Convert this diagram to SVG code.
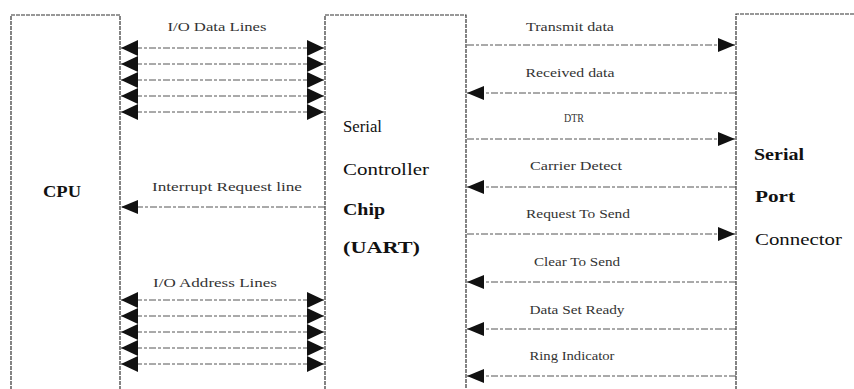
<svg xmlns="http://www.w3.org/2000/svg" width="854" height="389" viewBox="0 0 854 389">
<style>
.box{fill:none;stroke:#333;stroke-width:1.2;stroke-dasharray:4 1}
.ln{fill:none;stroke:#555;stroke-width:1;stroke-dasharray:7 2 3 2}
text{font-family:'Liberation Serif','Times New Roman',Times,serif}
.lbl{font-size:13px;fill:#333;text-anchor:middle}
.big{font-size:16px;fill:#111}
.bold{font-weight:bold}
</style>
<defs>
<marker id="ah" markerUnits="userSpaceOnUse" markerWidth="17" markerHeight="16" refX="17" refY="8" orient="auto-start-reverse" viewBox="0 0 17 16">
<path d="M0,0 L17,8 L0,16 z" fill="#111"/>
</marker>
<marker id="ahs" markerUnits="userSpaceOnUse" markerWidth="17" markerHeight="14" refX="17" refY="7" orient="auto-start-reverse" viewBox="0 0 17 14">
<path d="M0,0 L17,7 L0,14 z" fill="#111"/>
</marker>
</defs>
<rect width="854" height="389" fill="#fff"/>

<g id="cpu">
<path class="box" d="M11,400 V15 H120 V400"/>
<text class="big bold" x="43" y="197" textLength="38" lengthAdjust="spacingAndGlyphs">CPU</text>
</g>

<g id="uart">
<path class="box" d="M325,400 V15 H466 V400"/>
<text class="big" x="343" y="132" textLength="39" lengthAdjust="spacingAndGlyphs">Serial</text>
<text class="big" x="343" y="175" textLength="86" lengthAdjust="spacingAndGlyphs">Controller</text>
<text class="big bold" x="343" y="215" textLength="42" lengthAdjust="spacingAndGlyphs">Chip</text>
<text class="big bold" x="343" y="253" textLength="77" lengthAdjust="spacingAndGlyphs">(UART)</text>
</g>

<g id="connector">
<path class="box" d="M736,400 V14 H854"/>
<text class="big bold" x="754" y="160" textLength="50" lengthAdjust="spacingAndGlyphs">Serial</text>
<text class="big bold" x="755" y="202" textLength="40" lengthAdjust="spacingAndGlyphs">Port</text>
<text class="big" x="755" y="245" textLength="87" lengthAdjust="spacingAndGlyphs">Connector</text>
</g>

<g id="connectors">
<text class="lbl" x="217" y="31" textLength="99" lengthAdjust="spacingAndGlyphs">I/O Data Lines</text>
<line class="ln" x1="121" y1="48" x2="324" y2="48" marker-start="url(#ah)" marker-end="url(#ah)"/>
<line class="ln" x1="121" y1="64" x2="324" y2="64" marker-start="url(#ah)" marker-end="url(#ah)"/>
<line class="ln" x1="121" y1="80" x2="324" y2="80" marker-start="url(#ah)" marker-end="url(#ah)"/>
<line class="ln" x1="121" y1="96" x2="324" y2="96" marker-start="url(#ah)" marker-end="url(#ah)"/>
<line class="ln" x1="121" y1="112" x2="324" y2="112" marker-start="url(#ah)" marker-end="url(#ah)"/>

<text class="lbl" x="227" y="191" textLength="150" lengthAdjust="spacingAndGlyphs">Interrupt Request line</text>
<line class="ln" x1="325" y1="207" x2="121" y2="207" marker-end="url(#ahs)"/>

<text class="lbl" x="215" y="287" textLength="124" lengthAdjust="spacingAndGlyphs">I/O Address Lines</text>
<line class="ln" x1="121" y1="300" x2="324" y2="300" marker-start="url(#ah)" marker-end="url(#ah)"/>
<line class="ln" x1="121" y1="316" x2="324" y2="316" marker-start="url(#ah)" marker-end="url(#ah)"/>
<line class="ln" x1="121" y1="332" x2="324" y2="332" marker-start="url(#ah)" marker-end="url(#ah)"/>
<line class="ln" x1="121" y1="348" x2="324" y2="348" marker-start="url(#ah)" marker-end="url(#ah)"/>
<line class="ln" x1="121" y1="364" x2="324" y2="364" marker-start="url(#ah)" marker-end="url(#ah)"/>

<text class="lbl" x="570" y="31" textLength="88" lengthAdjust="spacingAndGlyphs">Transmit data</text>
<line class="ln" x1="467" y1="45" x2="735" y2="45" marker-end="url(#ahs)"/>
<text class="lbl" x="570" y="77" textLength="89" lengthAdjust="spacingAndGlyphs">Received data</text>
<line class="ln" x1="736" y1="93" x2="467" y2="93" marker-end="url(#ahs)"/>
<text class="lbl" x="574" y="122" textLength="20" lengthAdjust="spacingAndGlyphs">DTR</text>
<line class="ln" x1="467" y1="139" x2="735" y2="139" marker-end="url(#ahs)"/>
<text class="lbl" x="576" y="170" textLength="92" lengthAdjust="spacingAndGlyphs">Carrier Detect</text>
<line class="ln" x1="736" y1="187" x2="467" y2="187" marker-end="url(#ahs)"/>
<text class="lbl" x="578" y="218" textLength="104" lengthAdjust="spacingAndGlyphs">Request To Send</text>
<line class="ln" x1="467" y1="234" x2="735" y2="234" marker-end="url(#ahs)"/>
<text class="lbl" x="577" y="266" textLength="86" lengthAdjust="spacingAndGlyphs">Clear To Send</text>
<line class="ln" x1="736" y1="282" x2="467" y2="282" marker-end="url(#ahs)"/>
<text class="lbl" x="577" y="314" textLength="95" lengthAdjust="spacingAndGlyphs">Data Set Ready</text>
<line class="ln" x1="736" y1="329" x2="467" y2="329" marker-end="url(#ahs)"/>
<text class="lbl" x="572" y="360" textLength="85" lengthAdjust="spacingAndGlyphs">Ring Indicator</text>
<line class="ln" x1="736" y1="376" x2="467" y2="376" marker-end="url(#ahs)"/>
</g>
</svg>
